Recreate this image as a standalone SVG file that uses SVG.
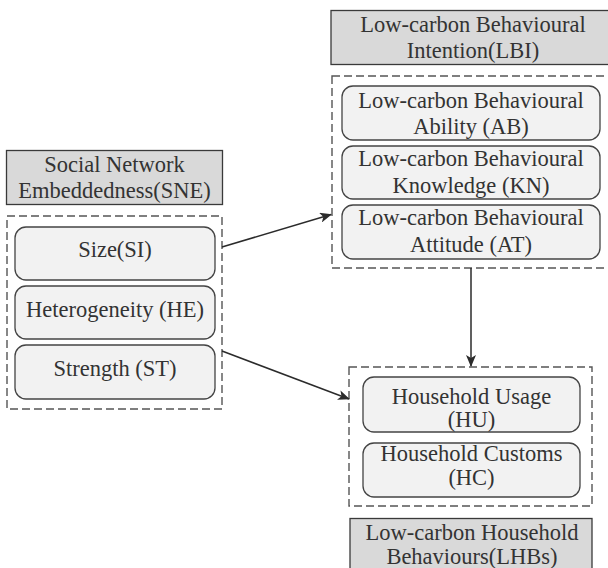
<svg xmlns="http://www.w3.org/2000/svg" width="608" height="568" viewBox="0 0 608 568">
<defs>
<marker id="ah" markerUnits="userSpaceOnUse" markerWidth="12" markerHeight="10" refX="11" refY="5" orient="auto">
<path d="M0,0 L12,5 L0,10 L3,5 Z" fill="#2b2b2b"/>
</marker>
<style>
.hdr{fill:#d9d9d9;stroke:#3a3a3a;stroke-width:1.3}
.grp{fill:none;stroke:#555;stroke-width:1.4;stroke-dasharray:8,4}
.box{fill:#f2f2f2;stroke:#444;stroke-width:1.3}
.edge{stroke:#2b2b2b;stroke-width:1.5;fill:none;marker-end:url(#ah)}
</style>
</defs>
<rect width="608" height="568" fill="#fff"/>
<g font-family="'Liberation Serif', 'Times New Roman', serif" font-size="22.5" fill="#333" text-anchor="middle">
<g id="SNE">
<rect class="hdr" x="6.5" y="150.5" width="216" height="54"/>
<text x="114.5" y="172">Social Network</text>
<text x="114.5" y="198">Embeddedness(SNE)</text>
<rect class="grp" x="7" y="216" width="215" height="193"/>
</g>
<g id="SI"><rect class="box" x="15" y="227" width="200" height="53" rx="11"/><text x="115" y="257">Size(SI)</text></g>
<g id="HE"><rect class="box" x="15" y="286" width="200" height="53" rx="11"/><text x="115" y="317">Heterogeneity (HE)</text></g>
<g id="ST"><rect class="box" x="15" y="345" width="200" height="54" rx="11"/><text x="115" y="376">Strength (ST)</text></g>
<g id="LBI">
<rect class="hdr" x="331" y="10.5" width="285" height="54"/>
<text x="473" y="32">Low-carbon Behavioural</text>
<text x="473" y="58">Intention(LBI)</text>
<rect class="grp" x="332" y="76" width="280" height="192"/>
</g>
<g id="AB"><rect class="box" x="342" y="86" width="258" height="54" rx="11"/><text x="471" y="107.5">Low-carbon Behavioural</text><text x="471" y="133.5">Ability (AB)</text></g>
<g id="KN"><rect class="box" x="342" y="146" width="258" height="53" rx="11"/><text x="471" y="166">Low-carbon Behavioural</text><text x="471" y="192.5">Knowledge (KN)</text></g>
<g id="AT"><rect class="box" x="342" y="205" width="258" height="54" rx="11"/><text x="471" y="225">Low-carbon Behavioural</text><text x="471" y="251.5">Attitude (AT)</text></g>
<g id="LHBs">
<rect class="grp" x="349" y="367" width="243" height="139"/>
<rect class="hdr" x="350" y="518.5" width="242" height="60"/>
<text x="472" y="539.5">Low-carbon Household</text>
<text x="472" y="564">Behaviours(LHBs)</text>
</g>
<g id="HU"><rect class="box" x="363" y="377" width="217" height="55" rx="11"/><text x="471.5" y="403.5">Household Usage</text><text x="471.5" y="427">(HU)</text></g>
<g id="HC"><rect class="box" x="363" y="443" width="217" height="54" rx="11"/><text x="471.5" y="461">Household Customs</text><text x="471.5" y="485">(HC)</text></g>
</g>
<g id="connectors">
<line class="edge" x1="222" y1="247" x2="331" y2="214.5"/>
<line class="edge" x1="222" y1="351" x2="349" y2="399"/>
<line class="edge" x1="471" y1="268" x2="471" y2="366"/>
</g>
</svg>
